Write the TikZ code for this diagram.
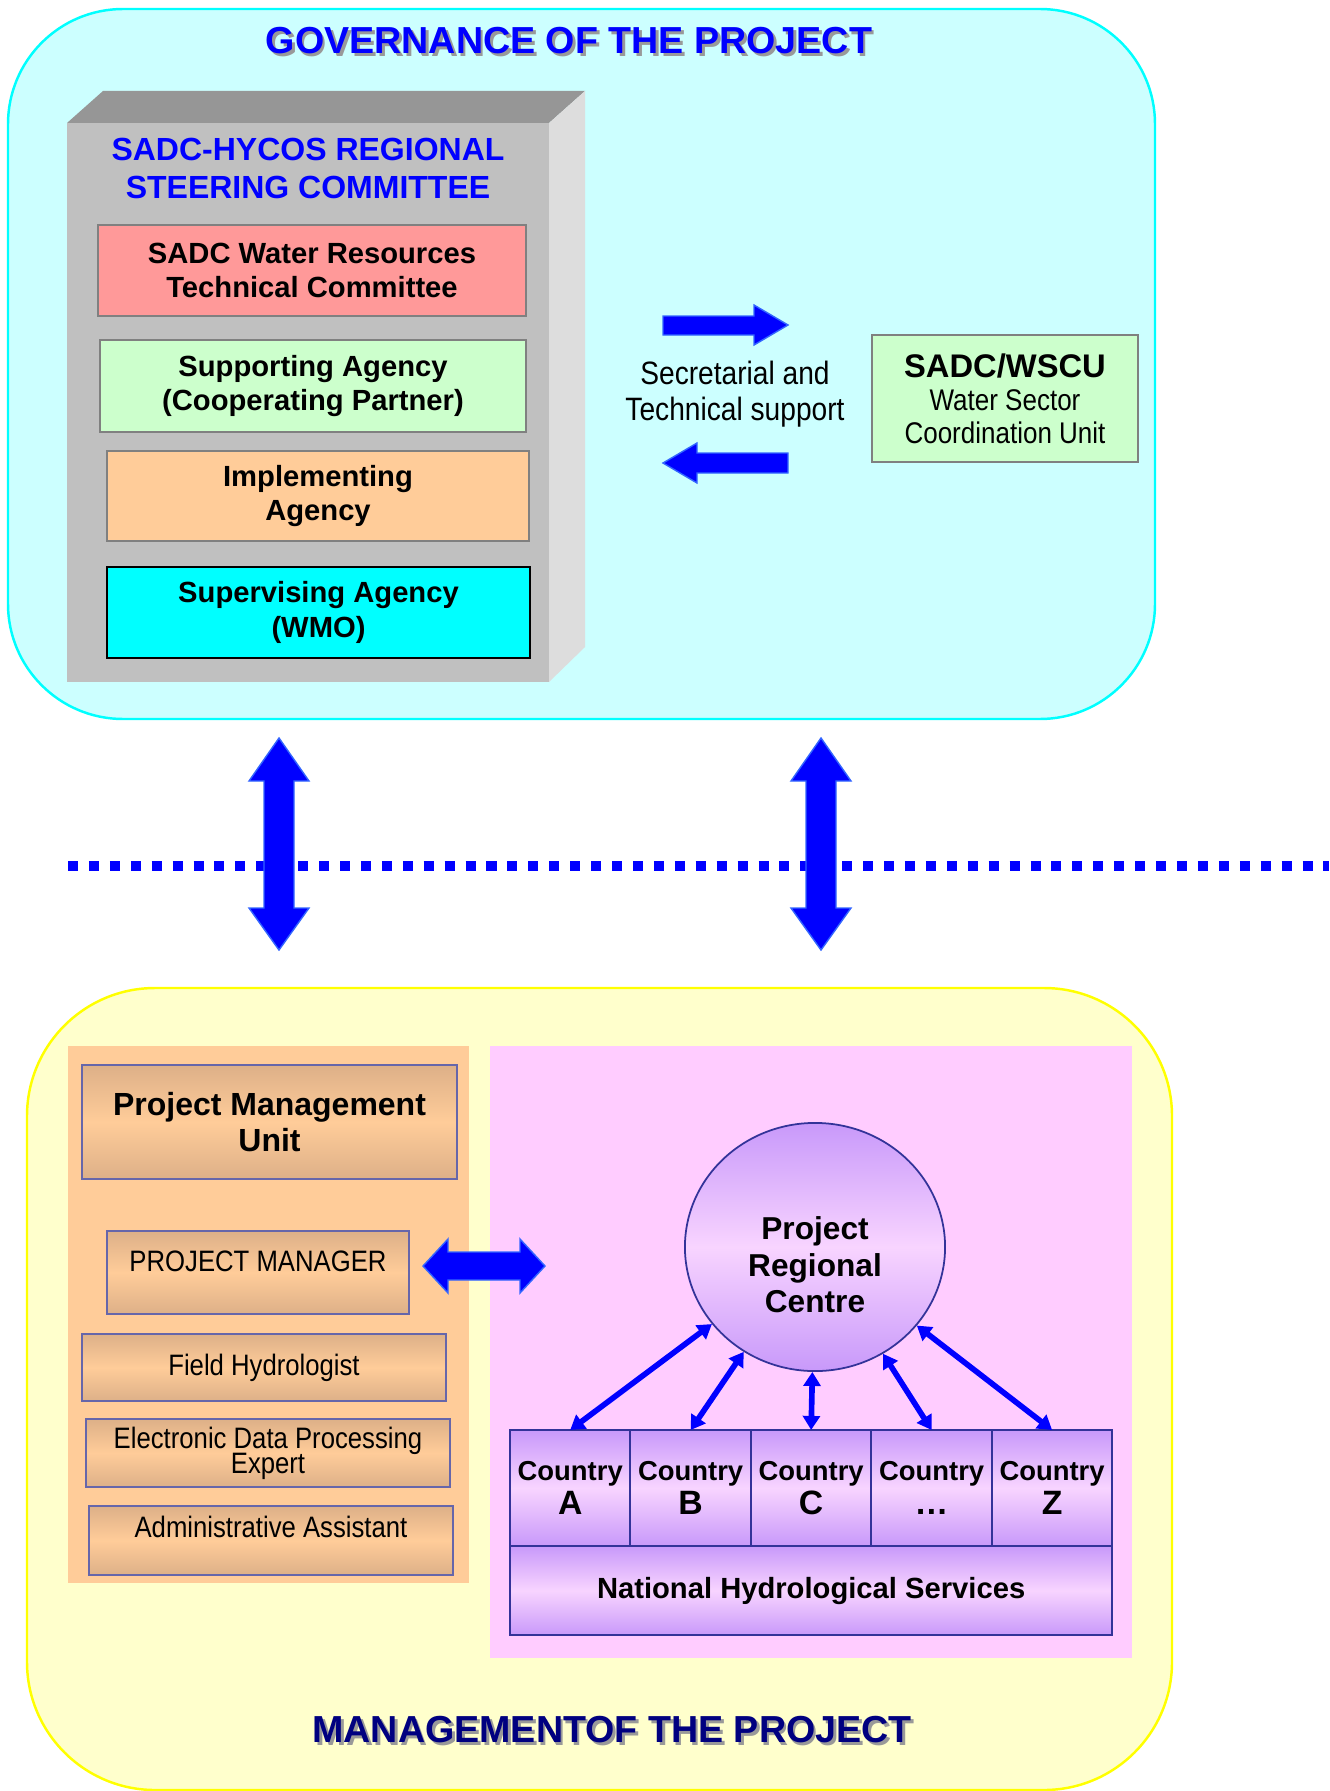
\documentclass[tikz,border=0pt]{standalone}
\usepackage{fontspec}
\setmainfont{Liberation Sans}
\newfontfamily\narrowfont{Liberation Sans}[FakeStretch=0.87]
\usetikzlibrary{arrows.meta, positioning, shapes.geometric}
\definecolor{govfill}{HTML}{CCFFFF}
\definecolor{govline}{HTML}{00FFFF}
\definecolor{mgtfill}{HTML}{FFFFCC}
\definecolor{mgtline}{HTML}{FFFF00}
\definecolor{cubefront}{HTML}{C0C0C0}
\definecolor{cubetop}{HTML}{969696}
\definecolor{cubeside}{HTML}{DDDDDD}
\definecolor{rosebox}{HTML}{FF9999}
\definecolor{mintbox}{HTML}{CCFFCC}
\definecolor{peachbox}{HTML}{FFCC99}
\definecolor{aquabox}{HTML}{00FFFF}
\definecolor{pinkpanel}{HTML}{FFCCFF}
\definecolor{lilac}{HTML}{C899FA}
\definecolor{lilaclight}{HTML}{F8D4FF}
\definecolor{tanshade}{HTML}{DDB088}
\definecolor{slateline}{HTML}{6666AA}
\definecolor{deepviolet}{HTML}{333399}
\definecolor{navytitle}{HTML}{000080}
\definecolor{arrowblue}{HTML}{0000FF}
\definecolor{arrowedge}{HTML}{3366FF}
\definecolor{boxgray}{HTML}{808080}
\definecolor{shadowgray}{HTML}{999999}
\newcommand{\dropshadow}[2]{\makebox[0pt][l]{\hspace{0.8pt}\raisebox{-0.8pt}{\color{#1}#2}}#2}
\newcommand{\ctryletter}[1]{{\fontsize{9.6}{10}\selectfont #1}}
\tikzset{
  govbox/.style={draw=boxgray, line width=0.6pt, minimum height=0.91cm, align=center, inner sep=0pt,
    font=\fontsize{8.3}{9.7}\selectfont\bfseries},
  staffbox/.style={draw=slateline, line width=0.5pt, top color=tanshade, bottom color=tanshade,
    middle color=peachbox, align=center, inner sep=0pt, font=\narrowfont\fontsize{8.4}{9.6}\selectfont},
  lilacshade/.style={top color=lilac, bottom color=lilac, middle color=lilaclight},
  country/.style={lilacshade, draw=deepviolet, line width=0.6pt, outer sep=0pt, inner sep=0pt,
    minimum width=1.204cm, minimum height=1.16cm, align=center, font=\fontsize{7.8}{9.6}\selectfont\bfseries},
  blockarrow/.style={fill=arrowblue, draw=arrowedge, line width=0.4pt},
  linkarrow/.style={arrowblue, line width=1.6pt, {Triangle[length=4pt,width=4.8pt]}-{Triangle[length=4pt,width=4.8pt]}},
}
\begin{document}
\begin{tikzpicture}[x=0.01cm, y=-0.01cm]
\useasboundingbox (0,0) rectangle (1329,1791);
% Gobierno del proyecto
\draw[draw=govline, fill=govfill, line width=0.7pt, rounded corners=1.15cm] (8,9) rectangle (1155,719);
\node[font=\fontsize{10.7}{12}\selectfont\bfseries, text=arrowblue] (govtitle) at (569,42) {\dropshadow{shadowgray}{GOVERNANCE OF THE PROJECT}};
% Comite en caja 3D
\fill[cubetop] (67,123) -- (103,91) -- (585,91) -- (549,123) -- cycle;
\fill[cubeside] (549,123) -- (585,91) -- (585,647) -- (549,682) -- cycle;
\fill[cubefront] (67,123) rectangle (549,682);
\node[align=center, text=arrowblue, font=\fontsize{9.1}{10.8}\selectfont\bfseries] (rsc) at (308,168) {SADC-HYCOS REGIONAL\\STEERING COMMITTEE};
\node[govbox, fill=rosebox, minimum width=4.28cm] (wrtc) at (312,270.5) {SADC Water Resources\\Technical Committee};
\node[govbox, fill=mintbox, minimum width=4.26cm, minimum height=0.92cm] (supp) at (313,386) {Supporting Agency\\(Cooperating Partner)};
\node[govbox, fill=peachbox, minimum width=4.22cm, minimum height=0.90cm] (impl) at (318,496) {Implementing\\Agency};
\node[govbox, fill=aquabox, draw=black, minimum width=4.23cm] (superv) at (318.5,612.5) {Supervising Agency\\(WMO)};
% Apoyo de secretaria
\node[align=center, font=\narrowfont\fontsize{9.2}{10.2}\selectfont] (secr) at (735,394) {Secretarial and\\Technical support};
\draw[blockarrow] (663,316) -- (754,316) -- (754,305) -- (788,325) -- (754,345) -- (754,335) -- (663,335) -- cycle;
\draw[blockarrow] (788,453) -- (697,453) -- (697,443) -- (663,463) -- (697,483) -- (697,473) -- (788,473) -- cycle;
\node[govbox, fill=mintbox, minimum width=2.66cm, minimum height=1.27cm, font=\narrowfont\fontsize{8.5}{9.4}\selectfont] (wscu) at (1005,398.5)
  {{\rmfamily\bfseries\fontsize{9.3}{10.5}\selectfont SADC/WSCU}\\Water Sector\\Coordination Unit};
% Linea divisoria y flechas verticales
\draw[arrowblue, line width=2.85pt, dash pattern=on 2.85pt off 3.1pt] (68,866) -- (1329,866);
\foreach \ax in {279,821}
  \draw[blockarrow] (\ax,738) -- (\ax+30,781) -- (\ax+15,781) -- (\ax+15,908) -- (\ax+30,908) -- (\ax,950)
    -- (\ax-30,908) -- (\ax-15,908) -- (\ax-15,781) -- (\ax-30,781) -- cycle;
% Gestion del proyecto
\draw[draw=mgtline, fill=mgtfill, line width=0.7pt, rounded corners=1.28cm] (27,988) rectangle (1172,1790);
\fill[peachbox] (68,1046) rectangle (469,1583);
\fill[pinkpanel] (490,1046) rectangle (1132,1658);
\node[staffbox, minimum width=3.75cm, minimum height=1.14cm, font=\fontsize{9.1}{10.4}\selectfont\bfseries] (pmu) at (269.5,1122) {Project Management\\Unit};
\node[staffbox, minimum width=3.02cm, minimum height=0.83cm, text depth=0.23cm] (pm) at (258,1272.5) {PROJECT MANAGER};
\node[staffbox, minimum width=3.64cm, minimum height=0.67cm] (fh) at (264,1367.5) {Field Hydrologist};
\node[staffbox, minimum width=3.64cm, minimum height=0.68cm] (edp) at (268,1453) {Electronic Data Processing\\[-2.5pt]Expert};
\node[staffbox, minimum width=3.64cm, minimum height=0.69cm, text depth=0.28cm] (aa) at (271,1540.5) {Administrative Assistant};
\draw[blockarrow] (423,1266) -- (448,1239) -- (448,1252) -- (520,1252) -- (520,1239) -- (545,1266)
  -- (520,1293) -- (520,1280) -- (448,1280) -- (448,1293) -- cycle;
% Centro regional y paises
\node[ellipse, lilacshade, draw=deepviolet, line width=0.5pt, minimum width=2.6cm, minimum height=2.48cm, inner sep=0pt,
  label={[align=center, font=\fontsize{9}{10.4}\selectfont\bfseries, yshift=-0.18cm]center:Project\\Regional\\Centre}] (prc) at (815,1247) {};
\node[country] (cA) at (570.2,1488) {Country\\\ctryletter{A}};
\node[country, right=0pt of cA] (cB) {Country\\\ctryletter{B}};
\node[country, right=0pt of cB] (cC) {Country\\\ctryletter{C}};
\node[country, right=0pt of cC] (cD) {Country\\\ctryletter{…}};
\node[country, right=0pt of cD] (cZ) {Country\\\ctryletter{Z}};
\node[country, below=0pt of cC, minimum width=6.02cm, minimum height=0.89cm, font=\fontsize{8.3}{10}\selectfont\bfseries] (nhs) {National Hydrological Services};
\foreach \c in {cA,cB,cC,cD,cZ}
  \draw[linkarrow] (prc) -- (\c.north);
\node[font=\fontsize{10.7}{12}\selectfont\bfseries, text=navytitle] (mgttitle) at (612,1731) {\dropshadow{shadowgray}{MANAGEMENTOF THE PROJECT}};
\end{tikzpicture}
\end{document}
